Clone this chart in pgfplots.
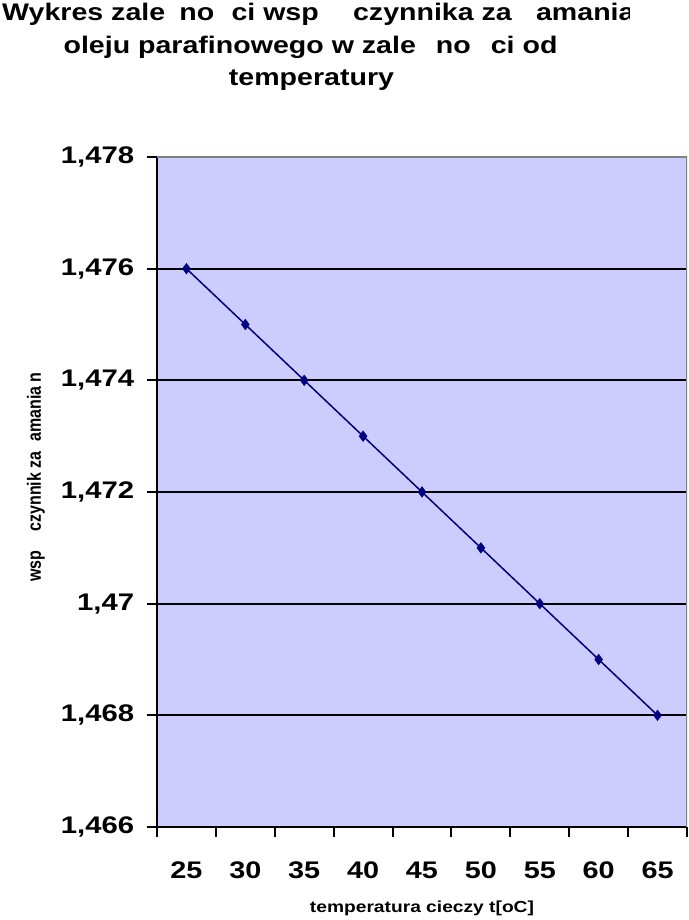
\documentclass[border=0pt]{standalone}
\usepackage{fontspec}
\setmainfont{Liberation Sans}
\usepackage{pgfplots}
\pgfplotsset{compat=1.18}
\definecolor{tlo}{HTML}{CCCCFF}
\definecolor{granat}{HTML}{000080}
\definecolor{ramka}{HTML}{808080}

\begin{document}
\begin{tikzpicture}[x=1pt,y=1pt]
\path[use as bounding box] (0,0) rectangle (688,920);

% tytul (pierwsza linia ucieta jak w oryginale)
\begin{scope}
\clip (0,800) rectangle (629,920);
\node[anchor=base west, inner sep=0pt, xscale=1.19, font=\fontsize{24}{28}\selectfont\bfseries] at (2,899)
  {Wykres zale\hspace{0.5em}no\hspace{0.6em}ci wsp\hspace{1.2em}czynnika za\hspace{0.85em}amania};
\end{scope}
\node[anchor=base, inner sep=0pt, xscale=1.19, font=\fontsize{24}{28}\selectfont\bfseries] at (310.5,866.5)
  {oleju parafinowego w zale\hspace{0.7em}no\hspace{0.7em}ci od};
\node[anchor=base, inner sep=0pt, xscale=1.19, font=\fontsize{24}{28}\selectfont\bfseries] at (311.5,834)
  {temperatury};

\begin{axis}[
  at={(157pt,93pt)}, anchor=south west,
  scale only axis, width=530pt, height=670pt,
  xmin=-0.5, xmax=8.5, ymin=1.466, ymax=1.478,
  axis background/.style={fill=tlo},
  axis x line*=bottom, axis y line*=left,
  axis line style={black, line width=2.5pt},
  xtick={0,1,2,3,4,5,6,7,8},
  xticklabels={25,30,35,40,45,50,55,60,65},
  minor xtick={-0.5,0.5,1.5,2.5,3.5,4.5,5.5,6.5,7.5,8.5},
  ytick={1.466,1.468,1.470,1.472,1.474,1.476,1.478},
  scaled y ticks=false,
  ymajorgrids, major grid style={black, line width=2pt},
  tick align=outside, major tick length=10pt, minor tick length=10pt,
  major x tick style={draw=none},
  minor x tick style={black, line width=2pt},
  major y tick style={black, line width=2pt},
  /pgf/number format/assume math mode=true,
  yticklabel style={/pgf/number format/fixed, /pgf/number format/precision=3,
    /pgf/number format/use comma, font=\fontsize{24}{28}\selectfont\bfseries,
    xscale=1.22, xshift=-7pt},
  xticklabel style={font=\fontsize{24}{28}\selectfont\bfseries, xscale=1.2, yshift=-21pt},
]
\addplot[granat, line width=1.5pt, mark=diamond*, mark size=4.5pt, mark options={fill=granat}]
  coordinates {(0,1.476) (1,1.475) (2,1.474) (3,1.473) (4,1.472) (5,1.471) (6,1.470) (7,1.469) (8,1.468)};
\draw[ramka, line width=2pt] (rel axis cs:0,1) -- (rel axis cs:1,1) -- (rel axis cs:1,0);
\end{axis}

\node[anchor=base, inner sep=0pt, xscale=1.2, font=\fontsize{16}{19}\selectfont\bfseries] at (422,8)
  {temperatura cieczy t[oC]};
\node[rotate=90, yscale=1.2, inner sep=0pt, font=\fontsize{16}{19}\selectfont\bfseries] at (36,443)
  {wsp\hspace{1.2em}czynnik za\hspace{0.6em}amania n};
\end{tikzpicture}
\end{document}
